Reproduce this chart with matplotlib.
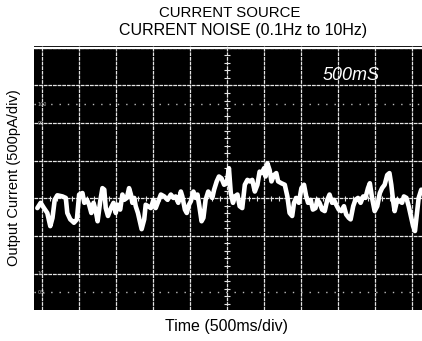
import numpy as np
import matplotlib
matplotlib.use("Agg")
import matplotlib.pyplot as plt

# Trace: time in divisions (500 ms/div), current in divisions (500 pA/div)
time_div = [-0.13, -0.04, 0.05, 0.14, 0.22, 0.28, 0.34, 0.41, 0.55, 0.64, 0.68, 0.76, 0.82, 0.86, 0.94,
            1.00, 1.09, 1.14, 1.21, 1.27, 1.33, 1.39, 1.45, 1.50, 1.57, 1.63, 1.68, 1.72, 1.78, 1.86,
            1.93, 1.99, 2.04, 2.11, 2.17, 2.22, 2.29, 2.35, 2.40, 2.44, 2.49, 2.53, 2.59, 2.65, 2.69,
            2.76, 2.80, 2.86, 2.94, 3.01, 3.07, 3.14, 3.21, 3.30, 3.39, 3.48, 3.55, 3.61, 3.68, 3.75,
            3.79, 3.86, 3.91, 3.97, 4.02, 4.09, 4.15, 4.20, 4.25, 4.31, 4.36, 4.42, 4.49, 4.54, 4.60,
            4.65, 4.72, 4.78, 4.85, 4.92, 4.99, 5.05, 5.10, 5.16, 5.21, 5.28, 5.34, 5.41, 5.48, 5.55,
            5.61, 5.68, 5.75, 5.82, 5.88, 5.95, 6.00, 6.04, 6.09, 6.15, 6.20, 6.27, 6.33, 6.38, 6.47,
            6.56, 6.63, 6.69, 6.76, 6.81, 6.87, 6.94, 7.01, 7.08, 7.14, 7.19, 7.26, 7.32, 7.39, 7.44,
            7.50, 7.57, 7.64, 7.71, 7.77, 7.84, 7.89, 7.95, 8.02, 8.09, 8.16, 8.22, 8.29, 8.34, 8.41,
            8.47, 8.54, 8.61, 8.68, 8.74, 8.81, 8.86, 8.92, 8.99, 9.06, 9.13, 9.19, 9.26, 9.33, 9.39,
            9.44, 9.49, 9.53, 9.60, 9.67, 9.73, 9.78, 9.85, 9.91, 9.96, 10.03, 10.08, 10.12, 10.18, 10.25]
current_div = [-0.26, -0.12, -0.26, -0.39, -0.74, -0.52, -0.04, 0.08, 0.05, 0.01, -0.39, -0.56, -0.61, -0.65, -0.56,
               0.10, 0.14, -0.12, -0.04, -0.17, -0.39, -0.12, -0.34, -0.61, -0.08, 0.27, 0.23, -0.26, -0.47, -0.26,
               -0.12, -0.39, -0.17, -0.30, 0.10, -0.04, 0.01, 0.27, 0.10, -0.12, 0.01, -0.21, -0.39, -0.65, -0.82,
               -0.56, -0.17, -0.21, -0.26, -0.04, -0.26, -0.08, 0.10, 0.05, -0.04, 0.10, 0.01, 0.05, -0.12, 0.18,
               0.05, -0.30, -0.39, -0.17, -0.08, 0.18, 0.01, 0.10, -0.21, -0.61, -0.52, -0.04, 0.18, 0.10, 0.01,
               0.23, 0.45, 0.58, 0.53, 0.36, 0.40, 0.80, 0.14, -0.12, 0.05, 0.10, -0.21, -0.26, 0.36, 0.49,
               0.45, 0.49, 0.18, 0.36, 0.71, 0.67, 0.80, 0.58, 0.93, 0.75, 0.45, 0.62, 0.67, 0.45, 0.40,
               0.36, 0.05, -0.39, -0.47, -0.12, 0.01, -0.12, 0.27, 0.36, 0.05, -0.12, -0.04, -0.30, -0.26, -0.04,
               -0.12, -0.30, -0.34, -0.04, 0.10, -0.12, -0.04, -0.17, -0.30, -0.34, -0.21, -0.43, -0.52, -0.56, -0.21,
               -0.04, 0.01, -0.12, 0.05, 0.01, 0.27, 0.40, 0.01, -0.34, -0.21, 0.14, 0.27, 0.36, 0.62, 0.67,
               0.36, -0.08, -0.34, -0.04, -0.08, -0.12, 0.05, 0.01, -0.21, -0.43, -0.74, -0.87, -0.52, 0.01, 0.23]

title_lines = ["CURRENT SOURCE", "CURRENT NOISE (0.1Hz to 10Hz)"]
x_label = "Time (500ms/div)"
y_label = "Output Current (500pA/div)"
scale_label = "500mS"
marker_labels = ["100", "90", "10", "0%"]
marker_levels = [2.5, 2.0, -2.0, -2.5]

W, H = 422, 341
fig = plt.figure(figsize=(W / 100, H / 100), dpi=100)
fig.patch.set_facecolor("white")
ax = fig.add_axes([34 / W, 31 / H, 388 / W, 264 / H])
ax.set_facecolor("black")
ax.set_xlim(-0.22, 10.27)
ax.set_ylim(-2.97, 4.05)
for s in ax.spines.values():
    s.set_visible(False)
ax.set_xticks([])
ax.set_yticks([])

grid_col = "#e4e4e4"
# graticule
for gx in range(0, 11):
    ax.axvline(gx, color=grid_col, lw=0.9, ls=(0, (3, 0.7)), zorder=1)
for gy in range(-3, 5):
    ax.axhline(gy, color=grid_col, lw=0.9, ls=(0, (3, 0.7)), zorder=1)
ax.axhline(4, color="white", lw=1.6, zorder=1)
# 0% / 100% dotted lines
for gy in (2.5, -2.5):
    ax.axhline(gy, color="#bbbbbb", lw=1.0, ls=(0, (1, 5)), zorder=1)
# minor ticks on center axes
minor = np.arange(-3, 4.01, 0.2)
ax.hlines(minor, 4.93, 5.07, color=grid_col, lw=0.8, zorder=1)
minor_x = np.arange(0, 10.01, 0.2)
ax.vlines(minor_x, -0.07, 0.07, color=grid_col, lw=0.8, zorder=1)

# trace
ax.plot(time_div, current_div, color="white", lw=3.3, solid_joinstyle="round",
        solid_capstyle="round", zorder=3)

# on-screen annotations
ax.text(8.35, 3.26, scale_label, color="white", fontsize=13, style="italic",
        family="Liberation Sans", ha="center", va="center", zorder=4)
for lab, lev in zip(marker_labels, marker_levels):
    ax.text(-0.12, lev, lab, color="#aaaaaa", fontsize=3.5, ha="left", va="center", zorder=4)

font = "Liberation Sans"
fig.text(230 / W, 1 - 13 / H, title_lines[0], ha="center", va="center", fontsize=10.8, family=font)
fig.text(243 / W, 1 - 31 / H, title_lines[1], ha="center", va="center", fontsize=11.5, family=font)
fig.text(227 / W, 1 - 327 / H, x_label, ha="center", va="center", fontsize=11.5, family=font)
fig.text(14 / W, 1 - 178 / H, y_label, ha="center", va="center", rotation=90, fontsize=10.5, family=font)

fig.savefig("out.png", dpi=100, facecolor="white")
